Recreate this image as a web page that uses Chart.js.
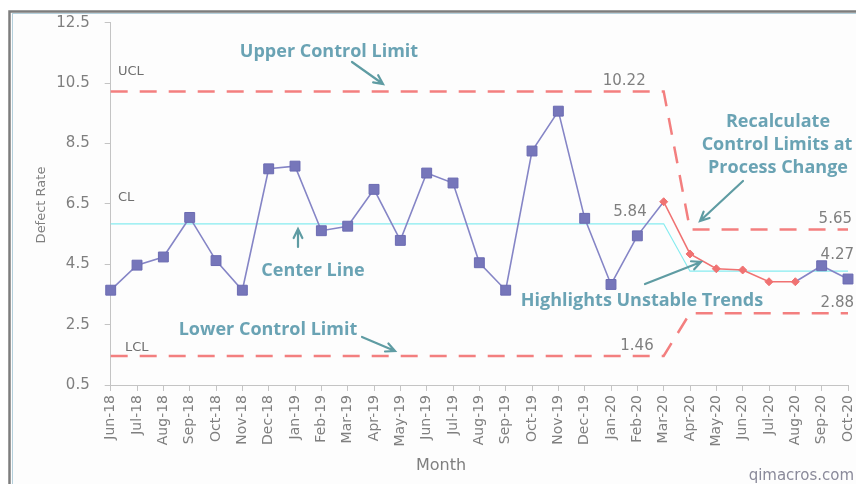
<!DOCTYPE html>
<html>
<head>
<meta charset="utf-8">
<script src="https://cdn.jsdelivr.net/npm/chart.js@4.4.1/dist/chart.umd.min.js"></script>
<style>
    html, body { margin: 0; padding: 0; background: #fff; overflow: hidden; }
    #wrap { width: 856px; height: 484px; position: relative; }
</style>
</head>
<body>
<div id="wrap"><canvas id="grafico"></canvas></div>
<script>
const meses = [
    'Jun-18', 'Jul-18', 'Aug-18', 'Sep-18', 'Oct-18', 'Nov-18', 'Dec-18',
    'Jan-19', 'Feb-19', 'Mar-19', 'Apr-19', 'May-19', 'Jun-19', 'Jul-19',
    'Aug-19', 'Sep-19', 'Oct-19', 'Nov-19', 'Dec-19',
    'Jan-20', 'Feb-20', 'Mar-20', 'Apr-20', 'May-20', 'Jun-20', 'Jul-20',
    'Aug-20', 'Sep-20', 'Oct-20'
];

const taxaDefeito = [
    3.64, 4.47, 4.74, 6.05, 4.62, 3.64, 7.66,
    7.75, 5.61, 5.76, 6.98, 5.29, 7.52, 7.19,
    4.55, 3.64, 8.25, 9.57, 6.02,
    3.83, 5.44, 6.57, 4.84, 4.35, 4.31, 3.92,
    3.92, 4.45, 4.01
];

const linhaCentral = [
    5.84, 5.84, 5.84, 5.84, 5.84, 5.84, 5.84,
    5.84, 5.84, 5.84, 5.84, 5.84, 5.84, 5.84,
    5.84, 5.84, 5.84, 5.84, 5.84,
    5.84, 5.84, 5.84, 4.27, 4.27, 4.27, 4.27,
    4.27, 4.27, 4.27
];

const limiteSuperior = [
    10.22, 10.22, 10.22, 10.22, 10.22, 10.22, 10.22,
    10.22, 10.22, 10.22, 10.22, 10.22, 10.22, 10.22,
    10.22, 10.22, 10.22, 10.22, 10.22,
    10.22, 10.22, 10.22, 5.65, 5.65, 5.65, 5.65,
    5.65, 5.65, 5.65
];

const limiteInferior = [
    1.46, 1.46, 1.46, 1.46, 1.46, 1.46, 1.46,
    1.46, 1.46, 1.46, 1.46, 1.46, 1.46, 1.46,
    1.46, 1.46, 1.46, 1.46, 1.46,
    1.46, 1.46, 1.46, 2.88, 2.88, 2.88, 2.88,
    2.88, 2.88, 2.88
];

// pontos da tendencia instavel (em vermelho)
const mesesInstaveis = ['Mar-20', 'Apr-20', 'May-20', 'Jun-20', 'Jul-20', 'Aug-20'];

const ticksY = [0.5, 2.5, 4.5, 6.5, 8.5, 10.5, 12.5];

const AZUL = '#8585c6';
const AZUL_PONTO = '#7676ba';
const VERMELHO = '#f07272';
const LIMITE = '#f37f7f';
const CIANO = '#86ecf0';
const TEAL_TEXTO = '#6aa3b4';
const TEAL_SETA = '#5f9ca3';
const CINZA = '#7f7f7f';

function instavel(i) {
    return mesesInstaveis.includes(meses[i]);
}

function seta(ctx, x1, y1, x2, y2) {
    const ang = Math.atan2(y2 - y1, x2 - x1);
    const tam = 10;
    ctx.save();
    ctx.strokeStyle = TEAL_SETA;
    ctx.lineWidth = 2.2;
    ctx.lineCap = 'round';
    ctx.beginPath();
    ctx.moveTo(x1, y1);
    ctx.lineTo(x2, y2);
    ctx.moveTo(x2 - tam * Math.cos(ang - 0.45), y2 - tam * Math.sin(ang - 0.45));
    ctx.lineTo(x2, y2);
    ctx.lineTo(x2 - tam * Math.cos(ang + 0.45), y2 - tam * Math.sin(ang + 0.45));
    ctx.stroke();
    ctx.restore();
}

function texto(ctx, t, x, y, font, cor, align) {
    ctx.save();
    ctx.font = font;
    ctx.fillStyle = cor;
    ctx.textAlign = align || 'center';
    ctx.textBaseline = 'middle';
    ctx.fillText(t, x, y);
    ctx.restore();
}

const anotacoes = {
    id: 'anotacoes',
    beforeDraw(chart) {
        const ctx = chart.ctx;
        ctx.save();
        ctx.fillStyle = '#fdfdfd';
        ctx.fillRect(10, 12, chart.width, chart.height);
        ctx.strokeStyle = '#7d7d7d';
        ctx.lineWidth = 2.5;
        ctx.strokeRect(9.5, 11.5, chart.width + 20, chart.height + 20);
        ctx.strokeStyle = '#b5d0dc';
        ctx.lineWidth = 1;
        ctx.strokeRect(12.5, 13.5, chart.width + 20, chart.height + 20);
        ctx.restore();
    },
    afterDatasetsDraw(chart) {
        const ctx = chart.ctx;
        const x = chart.scales.x;
        const y = chart.scales.y;
        const negrito = 'bold 18px "Open Sans"';
        const fonteNum = '15px "DejaVu Sans"';
        const fonteSigla = '13px "DejaVu Sans"';
        const iQuebra = meses.indexOf('Mar-20');
        const iFim = meses.length - 1;
        const xq = x.getPixelForValue(iQuebra);

        // siglas
        texto(ctx, 'UCL', 118, y.getPixelForValue(limiteSuperior[0]) - 20, fonteSigla, '#6f6f6f', 'left');
        texto(ctx, 'CL', 118, y.getPixelForValue(linhaCentral[0]) - 26, fonteSigla, '#6f6f6f', 'left');
        texto(ctx, 'LCL', 125, y.getPixelForValue(limiteInferior[0]) - 8, fonteSigla, '#6f6f6f', 'left');

        // valores dos limites
        texto(ctx, limiteSuperior[iQuebra].toFixed(2), xq - 18, y.getPixelForValue(limiteSuperior[iQuebra]) - 10, fonteNum, CINZA, 'right');
        texto(ctx, linhaCentral[iQuebra].toFixed(2), xq - 17, y.getPixelForValue(linhaCentral[iQuebra]) - 12, fonteNum, CINZA, 'right');
        texto(ctx, limiteInferior[iQuebra].toFixed(2), xq - 10, y.getPixelForValue(limiteInferior[iQuebra]) - 10, fonteNum, CINZA, 'right');
        texto(ctx, limiteSuperior[iFim].toFixed(2), 852, y.getPixelForValue(limiteSuperior[iFim]) - 10, fonteNum, CINZA, 'right');
        texto(ctx, linhaCentral[iFim].toFixed(2), 854, y.getPixelForValue(linhaCentral[iFim]) - 16, fonteNum, CINZA, 'right');
        texto(ctx, limiteInferior[iFim].toFixed(2), 854, y.getPixelForValue(limiteInferior[iFim]) - 10, fonteNum, CINZA, 'right');

        // textos explicativos
        texto(ctx, 'Upper Control Limit', 329, 52, negrito, TEAL_TEXTO);
        seta(ctx, 352, 62, 383, 84);
        texto(ctx, 'Center Line', 313, 271, negrito, TEAL_TEXTO);
        seta(ctx, 298, 247, 298, 229);
        texto(ctx, 'Lower Control Limit', 268, 330, negrito, TEAL_TEXTO);
        seta(ctx, 362, 337, 395, 351);
        texto(ctx, 'Highlights Unstable Trends', 642, 301, negrito, TEAL_TEXTO);
        seta(ctx, 645, 284, 701, 262);
        texto(ctx, 'Recalculate', 778, 122, negrito, TEAL_TEXTO);
        texto(ctx, 'Control Limits at', 777, 145, negrito, TEAL_TEXTO);
        texto(ctx, 'Process Change', 778, 168, negrito, TEAL_TEXTO);
        seta(ctx, 743, 181, 700, 221);

        // titulos dos eixos
        ctx.save();
        ctx.translate(42, 205);
        ctx.rotate(-Math.PI / 2);
        texto(ctx, 'Defect Rate', 0, 0, '13px "DejaVu Sans"', CINZA);
        ctx.restore();
        texto(ctx, 'Month', 441, 466, '16px "DejaVu Sans"', CINZA);
        texto(ctx, 'qimacros.com', 854, 476, '15px "DejaVu Sans"', '#8a8a9a', 'right');
    }
};

Chart.defaults.font.family = '"DejaVu Sans"';
Chart.defaults.color = CINZA;

new Chart(document.getElementById('grafico'), {
    type: 'line',
    data: {
        labels: meses,
        datasets: [
            {
                label: 'Defect Rate',
                data: taxaDefeito,
                borderColor: AZUL,
                borderWidth: 1.6,
                pointStyle: ctx => instavel(ctx.dataIndex) ? 'rectRot' : 'rect',
                pointRadius: ctx => instavel(ctx.dataIndex) ? 4 : 7,
                pointBackgroundColor: ctx => instavel(ctx.dataIndex) ? VERMELHO : AZUL_PONTO,
                pointBorderColor: ctx => instavel(ctx.dataIndex) ? VERMELHO : '#6b6bb2',
                pointBorderWidth: 1,
                segment: {
                    borderColor: ctx => (instavel(ctx.p0DataIndex) && instavel(ctx.p1DataIndex)) ? VERMELHO : undefined
                },
                tension: 0,
                clip: false
            },
            {
                label: 'CL',
                data: linhaCentral,
                borderColor: CIANO,
                borderWidth: 1.2,
                pointRadius: 0,
                tension: 0
            },
            {
                label: 'UCL',
                data: limiteSuperior,
                borderColor: LIMITE,
                borderWidth: 2.5,
                borderDash: [17, 12],
                pointRadius: 0,
                tension: 0
            },
            {
                label: 'LCL',
                data: limiteInferior,
                borderColor: LIMITE,
                borderWidth: 2.5,
                borderDash: [17, 12],
                pointRadius: 0,
                tension: 0
            }
        ]
    },
    options: {
        responsive: true,
        maintainAspectRatio: false,
        animation: false,
        layout: {
            padding: { left: 0, top: 22.7, right: 6.5, bottom: 0 }
        },
        plugins: {
            legend: { display: false },
            tooltip: { enabled: false }
        },
        scales: {
            x: {
                offset: false,
                grid: { drawOnChartArea: false, tickLength: 6, color: '#c4c4c4' },
                border: { color: '#c4c4c4' },
                ticks: {
                    autoSkip: false,
                    maxRotation: 90,
                    minRotation: 90,
                    padding: 4,
                    color: CINZA,
                    font: { size: 14 }
                },
                afterFit: s => {
                    s.height = 99;
                    s.paddingLeft = 0;
                    s.paddingRight = 0;
                }
            },
            y: {
                min: 0.5,
                max: 12.5,
                grid: { drawOnChartArea: false, tickLength: 6, color: '#c4c4c4' },
                border: { color: '#c4c4c4' },
                ticks: {
                    padding: 15,
                    color: CINZA,
                    font: { size: 15 },
                    callback: v => Number(v).toFixed(1)
                },
                afterBuildTicks: s => {
                    s.ticks = ticksY.map(v => ({ value: v }));
                },
                afterFit: s => {
                    s.width = 110.7;
                    s.paddingTop = 0;
                    s.paddingBottom = 0;
                }
            }
        }
    },
    plugins: [anotacoes]
});
</script>
</body>
</html>
